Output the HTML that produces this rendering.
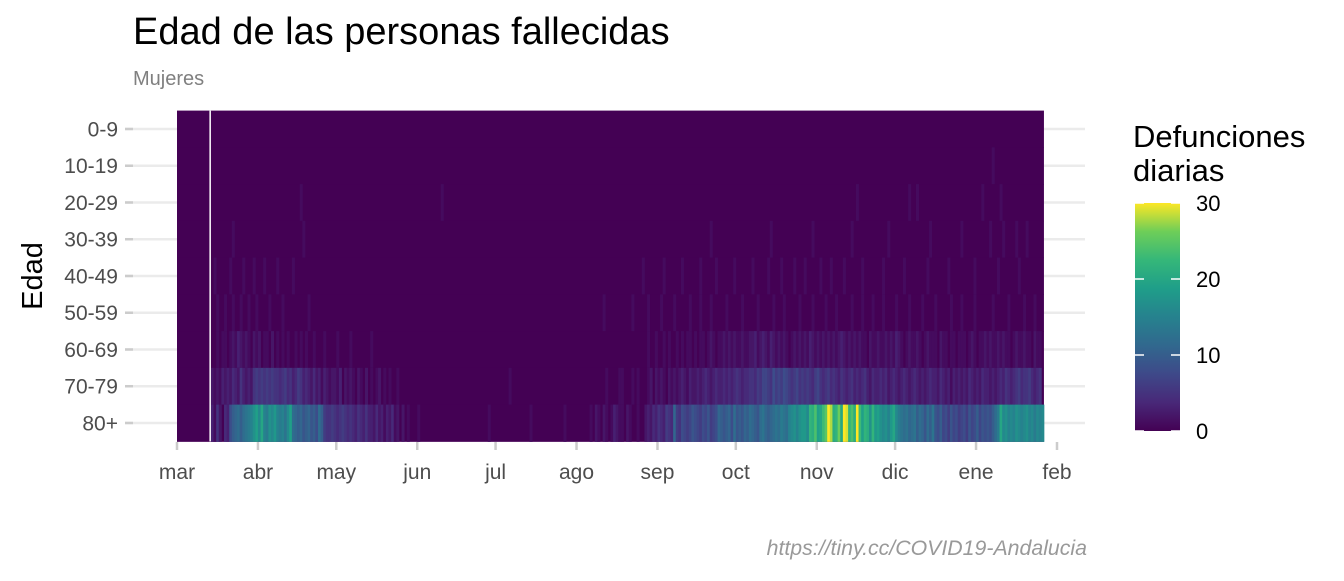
<!DOCTYPE html>
<html><head><meta charset="utf-8"><style>
body{margin:0;background:#fff;font-family:"Liberation Sans",Arial,sans-serif}
svg text{font-family:"Liberation Sans",Arial,sans-serif}
</style></head><body>
<svg id="chart" width="1344" height="576" viewBox="0 0 1344 576" xmlns="http://www.w3.org/2000/svg">
<text x="133" y="44" font-size="38" fill="#000">Edad de las personas fallecidas</text>
<text x="133" y="85" font-size="20" fill="#808080">Mujeres</text>
<text transform="translate(42,276) rotate(-90)" text-anchor="middle" font-size="29" fill="#000">Edad</text>
<text x="1087" y="555" text-anchor="end" font-size="21.3" font-style="italic" fill="#999">https://tiny.cc/COVID19-Andalucia</text>
<g id="grid"></g><g id="cells"></g><g id="axes"></g>
<g>
<text x="1133" y="147" font-size="31" fill="#000">Defunciones</text>
<text x="1133" y="181" font-size="31" fill="#000">diarias</text>
<defs><linearGradient id="vir" x1="0" y1="1" x2="0" y2="0">
<stop offset="0" stop-color="#440154"/><stop offset="0.125" stop-color="#482878"/><stop offset="0.25" stop-color="#3e4989"/><stop offset="0.375" stop-color="#31688e"/><stop offset="0.5" stop-color="#26828e"/><stop offset="0.625" stop-color="#1f9e89"/><stop offset="0.75" stop-color="#35b779"/><stop offset="0.875" stop-color="#6ece58"/><stop offset="1" stop-color="#fde725"/></linearGradient></defs>
<rect x="1135" y="203" width="45" height="228" fill="url(#vir)"/>
<g id="legticks"></g>
</g>
</svg>
<script>
const ageGroups=["0-9","10-19","20-29","30-39","40-49","50-59","60-69","70-79","80+"];
const monthLabels=["mar","abr","may","jun","jul","ago","sep","oct","nov","dic","ene","feb"];
const monthStartDays=[0,31,61,92,122,153,184,214,245,275,306,337];
const legendTicks=[0,10,20,30];
const nDays=332;
const gapDay=12.7;
const deaths80=[0,0,0,0,0,0,0,0,0,0, 0,0,0,3,1,5,2,0,4,3,
8,10,11,12,10,12,13,14,15,17, 19,16,20,15,14,17,16,18,15,14,
15,13,16,19,12,11,10,11,9,10, 11,9,10,8,12,10,6,5,5,6,
5,4,5,6,5,4,5,4,3,5, 4,3,5,3,3,2,4,2,3,1,
3,2,4,1,2,0,2,0,1,0, 0,0,1,0,0,0,0,0,0,0,
0,0,0,0,0,0,0,0,0,0, 0,0,0,0,0,0,0,0,0,1,
0,0,0,0,0,0,0,0,0,0, 0,0,0,0,0,1,0,0,0,0,
0,0,0,0,0,0,0,0,1,0, 0,0,0,0,0,0,0,0,1,0,
2,1,0,2,1,0,1,3,2,1, 1,0,2,1,0,0,1,0,0,2,
3,2,4,3,5,4,3,6,5,4, 11,6,5,8,7,6,7,9,8,7,
6,8,7,9,6,7,8,11,10,9, 10,11,8,12,9,10,9,11,10,12,
11,10,9,12,13,11,10,11,12,13, 12,14,13,12,15,16,17,15,17,18,
18,16,22,21,24,19,20,23,25,30, 28,21,22,26,20,30,29,22,24,21,
30,23,19,22,21,17,22,18,19,17, 16,17,15,18,20,16,14,13,12,13,
11,12,13,10,12,11,9,12,10,13, 9,8,10,7,8,6,9,7,8,6,
7,8,6,9,7,8,10,7,9,8, 9,8,10,12,14,20,16,17,15,16,
15,17,16,15,16,17,15,16,14,16,15,16];
const deaths70=[0,0,0,0,0,0,0,0,0,0, 0,0,0,2,1,2,1,3,2,3,
2,4,3,2,5,3,2,3,2,5, 6,5,6,5,6,5,6,5,5,4,
5,6,4,5,3,4,6,5,3,4, 3,2,4,2,3,1,3,2,1,2,
2,1,3,0,2,1,2,1,0,2, 1,0,2,0,1,0,1,2,0,1,
0,1,0,0,1,0,0,0,0,0, 0,0,0,0,0,0,0,0,0,0,
0,0,0,0,0,0,0,0,0,0, 0,0,0,0,0,0,0,0,0,0,
0,0,0,0,0,0,0,1,0,0, 0,0,0,0,0,0,0,0,0,0,
0,0,0,0,0,0,0,0,0,0, 0,0,0,0,0,0,0,0,0,0,
0,0,0,0,1,0,0,0,0,1, 1,0,0,0,1,0,1,0,0,0,
1,2,0,2,1,2,1,0,2,1, 2,1,2,3,2,1,3,2,2,3,
2,3,4,3,2,3,4,3,3,4, 3,4,3,4,5,4,3,4,4,5,
5,4,6,5,7,7,6,5,8,6, 7,6,8,7,6,5,6,7,5,6,
5,6,5,4,6,7,5,4,5,6, 4,5,4,3,5,4,3,4,5,3,
4,3,4,5,3,2,4,3,3,4, 3,4,2,3,4,3,2,3,4,3,
2,3,4,3,2,3,2,3,4,3, 3,2,4,3,2,3,1,3,2,3,
2,3,2,4,3,2,3,2,4,3, 3,2,3,2,3,4,3,5,4,3,
4,5,6,4,5,5,6,4,3,4,5,0];
const deaths60=[0,0,0,0,0,0,0,0,0,0, 0,0,0,0,0,1,0,1,1,0,
1,2,1,3,2,1,2,1,0,2, 1,2,0,1,1,0,2,0,1,0,
1,0,1,0,0,1,0,1,0,1, 0,0,1,0,0,0,1,0,0,0,
0,1,0,0,0,0,1,0,0,0, 0,0,0,0,1,0,0,0,0,0,
0,0,0,0,0,0,0,0,0,0, 0,0,0,0,0,0,0,0,0,0,
0,0,0,0,0,0,0,0,0,0, 0,0,0,0,0,0,0,0,0,0,
0,0,0,0,0,0,0,0,0,0, 0,0,0,0,0,0,0,0,0,0,
0,0,0,0,0,0,0,0,0,0, 0,0,0,0,0,0,0,0,0,0,
0,0,0,0,0,0,0,0,0,0, 0,0,0,0,0,0,0,0,0,0,
1,0,0,1,0,0,1,0,1,0, 0,1,0,1,0,1,1,0,1,0,
1,1,0,1,2,1,0,1,1,2, 1,2,1,2,1,1,2,1,1,2,
2,3,1,2,3,2,1,3,2,1, 2,1,2,1,0,1,2,1,2,1,
2,1,3,2,1,2,1,2,1,2, 1,2,1,2,3,2,1,2,1,2,
1,2,1,1,0,2,1,1,2,1, 1,2,1,2,1,3,2,1,0,1,
2,1,1,2,1,0,1,2,1,1, 1,0,2,1,1,0,1,1,0,1,
1,1,0,1,2,1,0,1,1,2, 1,2,1,1,2,1,2,1,1,0,
1,2,1,1,2,1,1,0,2,1,1,0];
const days50=[15,18,21,24,27,30,35,40,50,163,174,180,185,190,196,200,204,210,216,222,228,232,238,243,248,252,258,262,266,270,275,280,285,290,296,300,305,312,318,324,328];
const days40=[14,20,25,29,33,38,44,178,186,193,200,206,213,220,226,231,236,240,246,250,255,262,270,278,287,295,305,314,322];
const days30=[21,48,204,227,243,258,272,288,300,311,316,321,325];
const days20=[47,101,260,280,283,308,315];
const days10=[312];
const days0=[];

const svg=document.getElementById('chart');
const NS="http://www.w3.org/2000/svg";
const x0=177, pxDay=880/337, rowTop=110.6, rowH=36.75;
const xScale=d=>x0+d*pxDay;
const yScale=i=>rowTop+i*rowH;
const cScale=v=>v/30;
const stops=["#440154","#482878","#3e4989","#31688e","#26828e","#1f9e89","#35b779","#6ece58","#fde725"];
function hex(h){return [1,3,5].map(i=>parseInt(h.substr(i,2),16));}
function vir(t){t=Math.max(0,Math.min(1,t));const p=t*8,i=Math.min(7,Math.floor(p)),f=p-i;const a=hex(stops[i]),b=hex(stops[i+1]);return `rgb(${a.map((v,k)=>Math.round(v+(b[k]-v)*f)).join(',')})`;}
function mk(tag,attrs,parent){const e=document.createElementNS(NS,tag);for(const k in attrs)e.setAttribute(k,attrs[k]);parent.appendChild(e);return e;}
const grid=document.getElementById('grid'),cells=document.getElementById('cells'),axes=document.getElementById('axes');
ageGroups.forEach((g,i)=>{
  const yc=yScale(i)+rowH/2;
  const l=mk('line',{x1:125,x2:1085,y1:yc,y2:yc,stroke:'#ebebeb','stroke-width':2.5},grid);
  
  
  const t=mk('line',{x1:125,x2:133,y1:yc,y2:yc,stroke:'#ccc','stroke-width':2.5},axes);
  
  
  const tx=mk('text',{x:118,y:yc+7.5,'text-anchor':'end','font-size':21,fill:'#4d4d4d'},axes);
  tx.textContent=g;
  
  
});
function sparseToDense(days){const a=new Array(nDays).fill(0);days.forEach(d=>a[d]=1);return a;}
const rows=[sparseToDense(days0),sparseToDense(days10),sparseToDense(days20),sparseToDense(days30),sparseToDense(days40),sparseToDense(days50),deaths60,deaths70,deaths80];
rows.forEach((vals,i)=>{
  const bg=mk('rect',{x:xScale(0),y:yScale(i),width:xScale(nDays)-xScale(0),height:rowH+0.5,fill:vir(0)},cells);
  
  
  for(let d=0;d<nDays;d++){const v=vals[d]||0;if(!v)continue;
    const r=mk('rect',{x:xScale(d),y:yScale(i),width:pxDay+0.4,height:rowH+0.5,fill:vir(cScale(v))},cells);
    
    
  }
});
const gl=mk('line',{x1:xScale(gapDay),x2:xScale(gapDay),y1:yScale(0),y2:yScale(9),stroke:'#fff','stroke-width':1.5},cells);


monthLabels.forEach((m,i)=>{
  const x=xScale(monthStartDays[i]);
  const t=mk('line',{x1:x,x2:x,y1:442,y2:450,stroke:'#ccc','stroke-width':2.5},axes);
  
  
  const tx=mk('text',{x:x,y:479,'text-anchor':'middle','font-size':21,fill:'#4d4d4d'},axes);
  tx.textContent=m;
  
  
});
const lt=document.getElementById('legticks');
legendTicks.forEach(v=>{
  const y=431-v/30*228;
  mk('line',{x1:1135,x2:1144,y1:y,y2:y,stroke:'#fff','stroke-width':1.5},lt);
  mk('line',{x1:1171,x2:1180,y1:y,y2:y,stroke:'#fff','stroke-width':1.5},lt);
  const tx=mk('text',{x:1196,y:y+8,'font-size':22,fill:'#000'},lt);
  tx.textContent=v;
  
  
});
</script>
</body></html>
